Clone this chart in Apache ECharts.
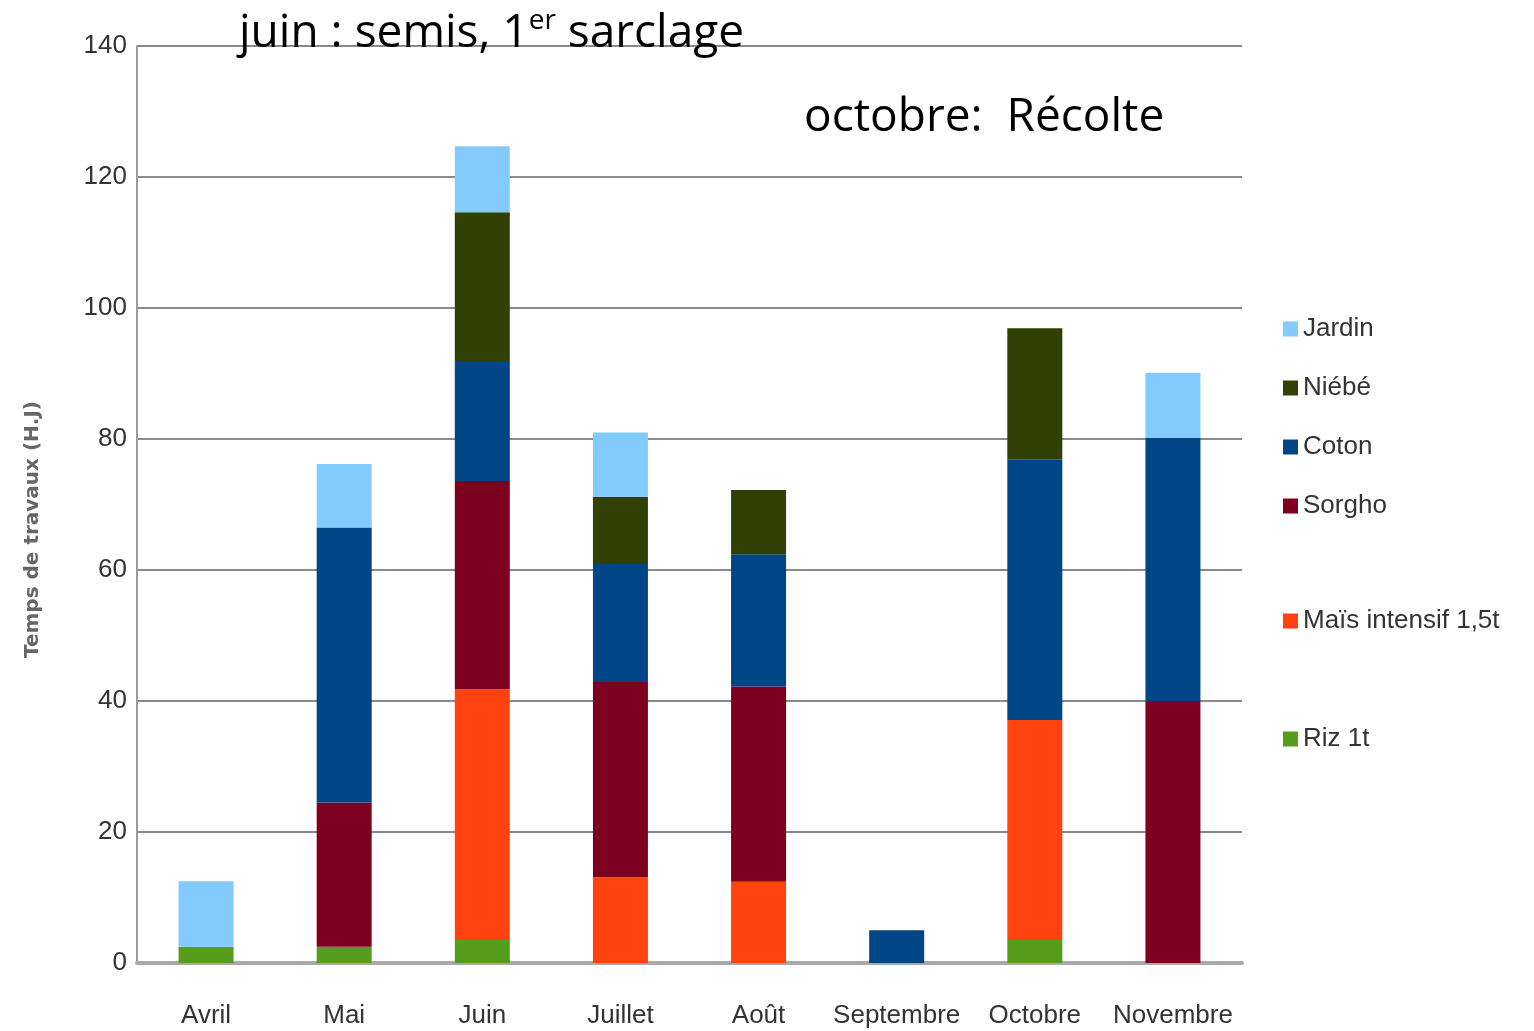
<!DOCTYPE html>
<html><head><meta charset="utf-8">
<script src="https://cdn.jsdelivr.net/npm/echarts@6/dist/echarts.min.js"></script>
<style>html,body{margin:0;padding:0;background:#fff}#c{width:1534px;height:1031px}</style>
</head><body><div id="c"></div>
<script>
const categories = ['Avril','Mai','Juin','Juillet','Août','Septembre','Octobre','Novembre'];
const seriesNames = ['Riz 1t','Maïs intensif 1,5t','Sorgho','Coton','Niébé','Jardin'];
const riz    = [2.5, 2.5, 3.5, 0, 0, 0, 3.5, 0];
const mais   = [0, 0, 38.3, 13.1, 12.4, 0, 33.6, 0];
const sorgho = [0, 22, 31.8, 29.8, 29.8, 0, 0, 40];
const coton  = [0, 42, 18.3, 18, 20.2, 5, 39.8, 40.2];
const niebe  = [0, 0, 22.7, 10.3, 9.8, 0, 20, 0];
const jardin = [10, 9.7, 10.1, 9.8, 0, 0, 0, 9.9];
const yTicks = [0, 20, 40, 60, 80, 100, 120, 140];
const yAxisTitle = 'Temps de travaux (H.J)';
const note1a = 'juin : semis, 1', note1sup = 'er', note1b = ' sarclage';
const note2 = 'octobre:  Récolte';

const colors = ['#579d1c','#ff420e','#7e0021','#004586','#314004','#83caff'];
const values = [riz, mais, sorgho, coton, niebe, jardin];

const chart = echarts.init(document.getElementById('c'));
const legendTops = {'Jardin':311,'Niébé':370,'Coton':429,'Sorgho':488,'Maïs intensif 1,5t':603,'Riz 1t':721};
const legends = seriesNames.map(n => ({
  data: [n], left: 1278, top: legendTops[n], orient: 'vertical',
  itemWidth: 15, itemHeight: 15, icon: 'rect', itemGap: 4,
  textStyle: {fontFamily: 'Liberation Sans', fontSize: 26, color: '#333'}
}));

chart.setOption({
  animation: false,
  color: colors,
  grid: {left: 137, right: 292, top: 46, bottom: 68, containLabel: false},
  legend: legends,
  xAxis: {
    type: 'category', data: categories,
    axisLine: {lineStyle: {color: '#a9a9a9', width: 4}},
    axisTick: {show: false},
    axisLabel: {interval: 0, fontFamily: 'Liberation Sans', fontSize: 26, color: '#333', margin: 40}
  },
  yAxis: {
    type: 'value', min: 0, max: 140, interval: 20,
    name: yAxisTitle, nameLocation: 'middle', nameGap: 94, nameRotate: 90,
    nameTextStyle: {fontFamily: 'DejaVu Sans', fontSize: 20, fontWeight: 'bold', color: '#666', padding: [0, 50, 0, 0]},
    axisLine: {show: true, lineStyle: {color: '#9a9a9a', width: 2}},
    axisTick: {show: false},
    axisLabel: {fontFamily: 'Liberation Sans', fontSize: 26, color: '#333', margin: 10,
      formatter: v => yTicks.includes(v) ? String(v) : ''},
    splitLine: {lineStyle: {color: '#8a8a8a', width: 2}}
  },
  series: seriesNames.map((n, i) => ({
    name: n, type: 'bar', stack: 'total', barWidth: 55,
    data: values[i], itemStyle: {color: colors[i]}
  })),
  graphic: [
    {type: 'text', left: 239, top: 7, z: 100, style: {
      text: '{a|' + note1a + '}{s|' + note1sup + '}{a|' + note1b + '}',
      rich: {
        a: {fontFamily: 'Open Sans', fontSize: 46, fill: '#000', lineHeight: 54},
        s: {fontFamily: 'Open Sans', fontSize: 28, fill: '#000', lineHeight: 54, verticalAlign: 'top', padding: [0,0,20,0]}
      }}},
    {type: 'text', left: 804, top: 95, z: 100, style: {
      text: note2, fontFamily: 'Open Sans', fontSize: 46, fill: '#000'}}
  ]
});
</script></body></html>
